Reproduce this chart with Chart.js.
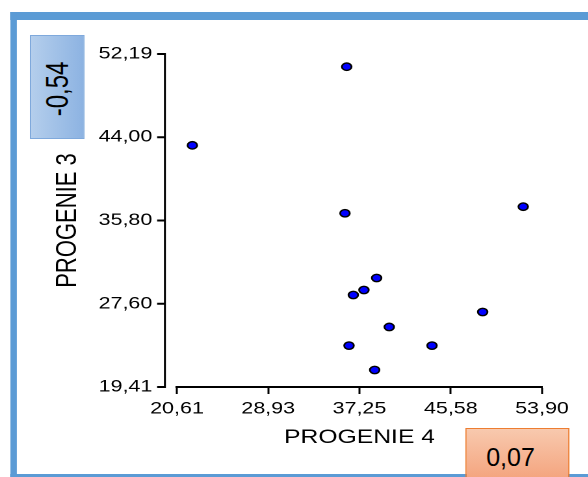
<!DOCTYPE html>
<html>
<head>
<meta charset="utf-8">
<script src="https://cdn.jsdelivr.net/npm/chart.js@4.4.1/dist/chart.umd.min.js"></script>
<style>
  html, body { margin: 0; padding: 0; background: #fff; overflow: hidden; }
  /* the reference picture is stretched sideways, so the whole stage is too */
  #stage { position: relative; width: 453px; height: 477px; transform: scaleX(1.3); transform-origin: 0 0; overflow: hidden; }
  #frame { position: absolute; left: 7.7px; top: 12px; width: 600px; height: 454px;
           border-top: 8px solid #5B9BD5; border-bottom: 8px solid #5B9BD5; border-left: 5.2px solid #5B9BD5; }
  #scatterChart { position: absolute; left: 0; top: 0; }
  .note { position: absolute; font-family: "Liberation Sans", Arial, sans-serif; color: #000; box-sizing: border-box; }
  #coefBox { left: 23.1px; top: 35px; width: 42.3px; height: 104px; border: 1px solid #7fa9dc;
             background: linear-gradient(to right, #b4ceec, #8db3e2); }
  #coefBox span { position: absolute; left: 50%; top: 52%; font-size: 24px; line-height: 1;
                  transform: translate(-50%, -50%) rotate(-90deg); white-space: nowrap; }
  #corrBox { left: 357.7px; top: 428px; width: 80px; height: 52px; border: 1px solid #ed7d31;
             background: linear-gradient(to bottom, #f8c9ae, #f4a47e); }
  #corrBox span { position: absolute; left: 15.4px; top: 15.8px; font-size: 25px; line-height: 1;
                  transform: scaleX(0.77); transform-origin: 0 0; white-space: nowrap; }
</style>
</head>
<body>
<div id="stage">
  <div id="frame"></div>
  <canvas id="scatterChart" width="453" height="477"></canvas>
  <div class="note" id="coefBox"><span id="coefText"></span></div>
  <div class="note" id="corrBox"><span id="corrText"></span></div>
</div>
<script>
// Data
const progenie4 = [36.09, 22.01, 35.93, 52.19, 38.82, 37.66, 36.69, 48.49, 39.97, 36.30, 43.87, 38.64];
const progenie3 = [50.94, 43.20, 36.51, 37.16, 30.14, 28.96, 28.47, 26.79, 25.32, 23.48, 23.48, 21.08];
const xTicks = [20.61, 28.93, 37.25, 45.58, 53.90];
const yTicks = [19.41, 27.60, 35.80, 44.00, 52.19];
const xTitle = 'PROGENIE 4';
const yTitle = 'PROGENIE 3';
const coefLabel = '-0,54';
const corrLabel = '0,07';

document.getElementById('coefText').textContent = coefLabel;
document.getElementById('corrText').textContent = corrLabel;

const fontFamily = '"Liberation Sans", Arial, sans-serif';

// tick labels use a decimal comma
function commaLabel(value) {
    return value.toFixed(2).replace('.', ',');
}

// the y axis line sits a little left of the plot, apart from the x axis
const detachedYAxis = {
    id: 'detachedYAxis',
    afterDraw(chart) {
        const ctx = chart.ctx;
        const yScale = chart.scales.y;
        const axisX = chart.chartArea.left - 9.3;
        const top = yScale.getPixelForValue(yTicks[yTicks.length - 1]);
        const bottom = yScale.getPixelForValue(yTicks[0]);
        ctx.save();
        ctx.strokeStyle = '#000';
        ctx.lineWidth = 1.5;
        ctx.beginPath();
        ctx.moveTo(axisX, top - 1);
        ctx.lineTo(axisX, bottom + 1);
        ctx.stroke();
        ctx.lineWidth = 2;
        ctx.beginPath();
        yScale.ticks.forEach(tick => {
            const py = yScale.getPixelForValue(tick.value);
            ctx.moveTo(axisX - 6, py);
            ctx.lineTo(axisX, py);
        });
        ctx.stroke();
        ctx.restore();
    }
};

const points = progenie4.map((x, i) => ({ x: x, y: progenie3[i] }));

const ctx = document.getElementById('scatterChart').getContext('2d');
const chart = new Chart(ctx, {
    type: 'scatter',
    data: {
        datasets: [{
            data: points,
            backgroundColor: '#0000FF',
            borderColor: '#000',
            borderWidth: 1.4,
            pointRadius: 3.7
        }]
    },
    options: {
        responsive: false,
        animation: false,
        devicePixelRatio: 2,
        layout: { padding: { top: 54, right: 36.1, bottom: 0, left: 0 } },
        plugins: { legend: { display: false }, tooltip: { enabled: false } },
        scales: {
            x: {
                type: 'linear',
                min: xTicks[0],
                max: xTicks[xTicks.length - 1],
                afterBuildTicks: scale => { scale.ticks = xTicks.map(v => ({ value: v })); },
                afterFit: scale => { scale.height = 90; },
                border: { display: true, color: '#000', width: 2 },
                grid: { display: true, drawOnChartArea: false, tickLength: 7, tickColor: '#000', tickWidth: 1.5 },
                ticks: {
                    callback: value => commaLabel(value),
                    color: '#000',
                    font: { family: fontFamily, size: 16.5 },
                    padding: 5,
                    maxRotation: 0,
                    autoSkip: false
                },
                title: {
                    display: true,
                    text: xTitle,
                    color: '#000',
                    font: { family: fontFamily, size: 19 },
                    padding: { top: 0, bottom: 27.6 }
                }
            },
            y: {
                type: 'linear',
                min: yTicks[0],
                max: yTicks[yTicks.length - 1],
                afterBuildTicks: scale => { scale.ticks = yTicks.map(v => ({ value: v })); },
                afterFit: scale => { scale.width = 136.15; },
                border: { display: false },
                grid: { display: true, drawOnChartArea: false, tickLength: 15, tickColor: 'rgba(0,0,0,0)' },
                ticks: {
                    callback: value => commaLabel(value),
                    color: '#000',
                    font: { family: fontFamily, size: 16.5 },
                    padding: 4,
                    autoSkip: false
                },
                title: {
                    display: true,
                    text: yTitle,
                    color: '#000',
                    font: { family: fontFamily, size: 22 },
                    padding: { top: 39.1, bottom: 0 }
                }
            }
        }
    },
    plugins: [detachedYAxis]
});
</script>
</body>
</html>
